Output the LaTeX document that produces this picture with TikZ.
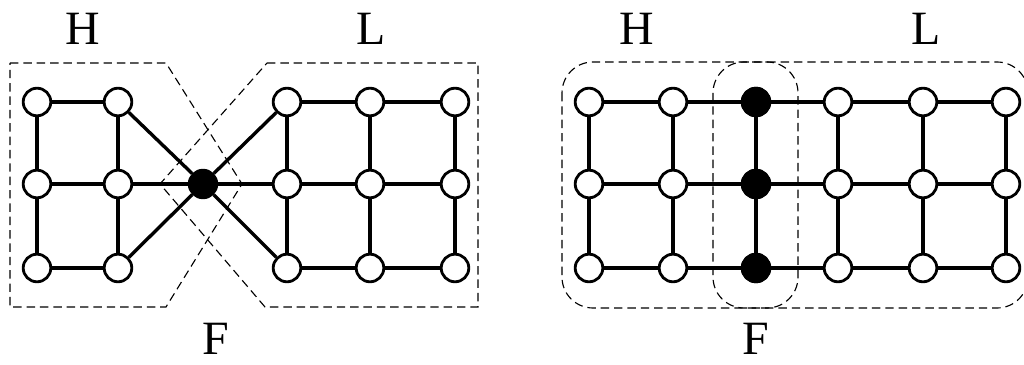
\documentclass[tikz,border=0pt]{standalone}
\usepackage{fontspec}
\setmainfont{Liberation Serif}
\usepackage{tikz}
\usetikzlibrary{positioning}
\tikzset{
  vertex/.style={
    circle,draw=black,fill=white,
    line width=2pt,minimum size=6.9mm,inner sep=0pt
  },
  cutvertex/.style={vertex,fill=black},
  edge/.style={draw=black,line width=2.4pt},
  region/.style={draw=black,line width=.8pt,dash pattern=on 6pt off 3.5pt},
  lbl/.style={inner sep=0pt,font=\fontsize{34}{38}\selectfont}
}
\begin{document}
\begin{tikzpicture}[x=0.025cm,y=-0.025cm]
\useasboundingbox (0,0) rectangle (1024,365);
% left: vertices
\foreach \c/\x in {1/37,2/118,3/287,4/370,5/455}
  \foreach \r/\y in {1/102,2/184,3/268}
    \node[vertex] (a\c\r) at (\x,\y) {};
\node[cutvertex] (acut) at (203,184) {};
% left: edges
\foreach \c in {1,2,3,4,5} {
  \draw[edge] (a\c1)--(a\c2);
  \draw[edge] (a\c2)--(a\c3);
}
\foreach \r in {1,2,3} {
  \draw[edge] (a1\r)--(a2\r);
  \draw[edge] (a3\r)--(a4\r);
  \draw[edge] (a4\r)--(a5\r);
  \draw[edge] (a2\r)--(acut);
  \draw[edge] (acut)--(a3\r);
}
% left: regions
\draw[region] (10,63)--(166,63)--(242,184)--(166,307)--(10,307)--cycle;
\draw[region] (267,63)--(478,63)--(478,307)--(265,307)--(160,184)--cycle;
\node[lbl] (ah) at (83,29) {H};
\node[lbl] (al) at (371,29) {L};
\node[lbl] (af) at (216,339) {F};
% right: vertices
\foreach \c/\x in {1/589,2/673,3/756,4/838,5/923,6/1006}
  \foreach \r/\y in {1/102,2/184,3/268}
    \node[vertex] (b\c\r) at (\x,\y) {};
\foreach \r/\y in {1/102,2/184,3/268}
  \node[cutvertex] (b3\r) at (756,\y) {};
% right: edges
\foreach \c in {1,...,6} {
  \draw[edge] (b\c1)--(b\c2);
  \draw[edge] (b\c2)--(b\c3);
}
\foreach \r in {1,2,3}
  \foreach \c/\d in {1/2,2/3,3/4,4/5,5/6}
    \draw[edge] (b\c\r)--(b\d\r);
% right: regions
\draw[region,rounded corners=22] (562,62) rectangle (798,308);
\draw[region,rounded corners=22] (713,62) rectangle (1028,308);
\node[lbl] (bh) at (637,29) {H};
\node[lbl] (bl) at (926,29) {L};
\node[lbl] (bf) at (756,339) {F};
\end{tikzpicture}
\end{document}
